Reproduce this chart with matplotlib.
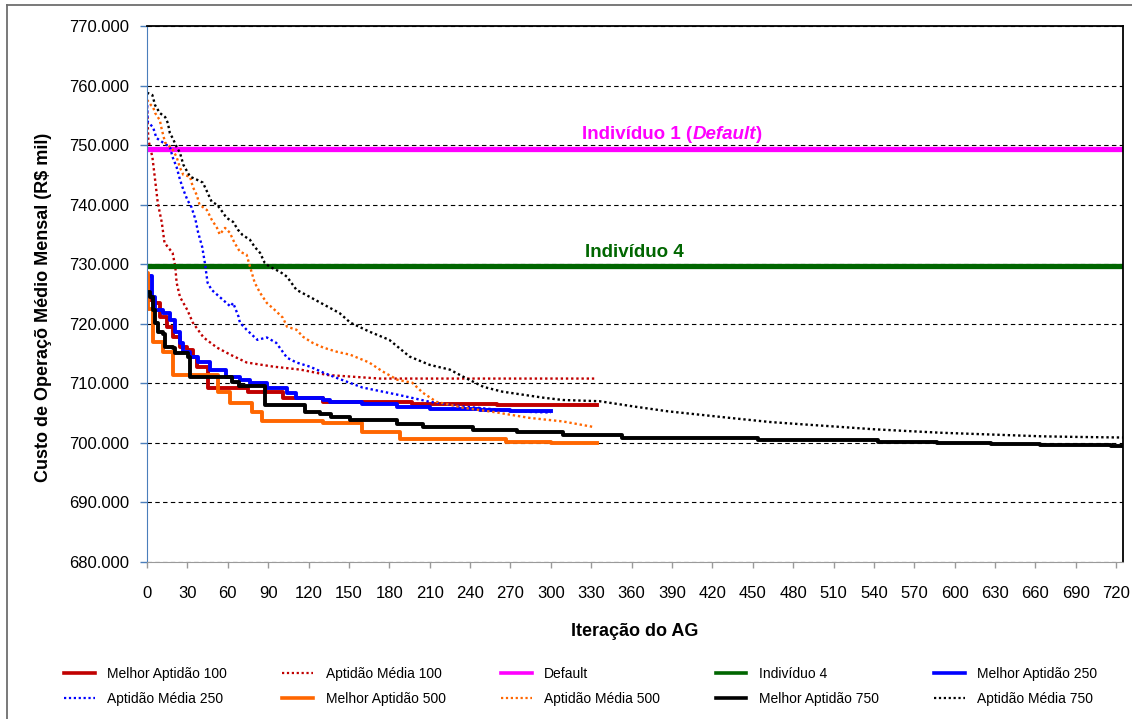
import matplotlib

matplotlib.use("Agg")
import matplotlib.pyplot as plt
from matplotlib.lines import Line2D
from matplotlib.ticker import FuncFormatter, MultipleLocator

plt.rcParams["font.family"] = ["Liberation Sans", "DejaVu Sans"]

# ---- data (R$ mil) ----
best100_x = [0, 1, 4.5, 10, 15, 19, 24.5, 30, 34, 37, 45, 75, 101, 131, 197, 260, 334]
best100_y = [727.9, 724.0, 723.5, 721.2, 719.5, 717.8, 716.1, 715.6, 714.5, 712.8, 709.3,
             708.6, 707.6, 706.9, 706.6, 706.4, 706.4]

avg100_x = [0, 1, 4, 6, 8, 11, 13, 19, 21, 22, 24.5, 30, 34, 42, 52, 62, 74, 94, 114, 134,
            173, 334]
avg100_y = [756.5, 750.9, 748.0, 744.2, 740.3, 737.0, 733.6, 731.9, 729.6, 726.9, 724.5,
            722.3, 720.2, 717.7, 716.0, 714.8, 713.5, 712.8, 712.3, 711.4, 710.8, 710.8]

best250_x = [0, 4, 6, 12, 17, 21, 24.5, 27, 32, 38, 43, 47, 59, 69, 76.5, 89, 104, 111, 131,
             136, 160, 186, 210, 247, 270, 300]
best250_y = [728.0, 724.5, 722.3, 721.8, 720.7, 718.7, 716.8, 715.3, 714.5, 713.6, 713.5,
             712.3, 711.1, 710.6, 710.1, 709.3, 708.4, 707.6, 707.2, 706.9, 706.6, 706.1,
             705.7, 705.6, 705.4, 705.3]

avg250_x = [0, 0.5, 4.5, 7, 12, 17, 19, 22, 24.5, 27, 30, 33, 36, 38, 41, 43, 45, 48, 54, 62,
            64, 68, 69, 74, 82, 89, 96, 104, 111, 121, 131, 141, 160, 186, 210, 235, 260,
            284, 300]
avg250_y = [757.6, 753.9, 753.0, 751.2, 750.4, 749.7, 748.0, 746.3, 744.2, 742.5, 740.8,
            739.6, 737.5, 735.3, 732.9, 730.2, 726.9, 725.7, 724.5, 722.9, 723.5, 721.2,
            720.2, 719.0, 717.3, 717.7, 716.8, 714.3, 713.5, 712.8, 711.8, 710.9, 709.3,
            708.1, 706.9, 706.1, 705.6, 705.2, 705.1]

best500_x = [0, 1, 4.5, 12, 19, 52.5, 61.5, 78, 85.5, 131, 160, 188, 267, 300, 334]
best500_y = [728.5, 722.5, 717.0, 715.3, 711.4, 708.6, 706.7, 705.2, 703.6, 703.4, 701.9,
             700.7, 700.2, 700.0, 700.0]

avg500_x = [0, 3, 4.5, 6, 9.5, 11, 13.5, 18.5, 22, 24.5, 27, 32, 34, 37, 39, 44.5, 48, 52,
            54, 58, 61.5, 65, 69, 74, 76.5, 80, 84, 89, 95, 101, 104, 111, 116, 123, 131,
            141, 151, 165, 175, 186, 197, 205, 215, 235, 260, 284, 309, 331]
avg500_y = [757.6, 756.7, 756.4, 755.4, 754.2, 752.6, 750.4, 749.5, 748.0, 746.2, 745.0,
            744.7, 743.0, 741.6, 740.0, 739.1, 737.5, 736.1, 735.0, 736.1, 735.3, 733.6,
            732.1, 731.6, 729.6, 726.9, 725.2, 723.5, 722.3, 721.0, 719.5, 719.0, 717.8,
            716.8, 716.0, 715.3, 714.8, 713.5, 712.0, 710.6, 710.1, 708.4, 706.9, 705.9,
            705.1, 704.2, 703.6, 702.7]

best750_x = [0, 2, 4.5, 6, 8, 12, 13.5, 19, 21, 30.5, 32, 63, 68, 88, 117, 128.5, 137,
             150.5, 186, 205, 242, 275, 309, 353, 454, 543, 587, 627, 663, 716, 725]
best750_y = [725.4, 724.5, 722.3, 720.2, 718.7, 718.2, 716.1, 716.0, 715.1, 714.5, 711.1,
             710.3, 709.6, 706.4, 705.2, 704.9, 704.4, 703.9, 703.2, 702.6, 702.2, 701.9,
             701.4, 700.8, 700.5, 700.2, 700.0, 699.8, 699.6, 699.5, 699.5]

avg750_x = [0, 4, 6, 9.5, 13.5, 15.5, 17, 19, 22, 24.5, 27, 30, 32, 37, 41.5, 45, 48, 52, 56,
            59, 64, 67.5, 71, 76.5, 80, 84, 87.5, 91, 99, 104, 111, 121, 134, 143, 151, 165,
            180, 195, 210, 225, 235, 250, 264, 279, 294, 309, 336, 362, 387, 412, 437, 463,
            488, 514, 539, 564, 590, 615, 640, 665, 691, 725]
avg750_y = [758.8, 758.4, 756.7, 755.4, 754.7, 753.7, 752.0, 751.2, 749.7, 748.7, 746.7,
            745.5, 744.7, 744.2, 743.7, 742.0, 740.5, 740.0, 738.8, 737.8, 737.1, 735.8,
            734.9, 734.1, 732.9, 731.9, 730.2, 729.6, 728.7, 727.9, 725.7, 724.5, 722.9,
            721.8, 720.2, 718.7, 717.3, 714.5, 713.1, 712.3, 711.1, 709.4, 708.6, 708.1,
            707.6, 707.2, 707.0, 706.1, 705.3, 704.7, 704.1, 703.5, 703.1, 702.7, 702.3,
            702.0, 701.7, 701.5, 701.3, 701.1, 701.0, 700.9]

default_value = 749.4
ind4_value = 729.7

DARKRED, BLUE, ORANGE = "#C00000", "#0000FF", "#FF6600"
MAGENTA, GREEN = "#FF00FF", "#006600"

fig = plt.figure(figsize=(11.32, 7.19), dpi=100)
ax = fig.add_axes([147 / 1132, 1 - 562 / 719, (1123 - 147) / 1132, (562 - 26) / 719])

dot = (0, (1, 1.2))
solid_lw, dot_lw = 2.8, 1.7

ax.plot(best100_x, best100_y, color=DARKRED, lw=solid_lw, drawstyle="steps-post")
ax.plot(avg100_x, avg100_y, color=DARKRED, lw=dot_lw, ls=dot)
ax.axhline(default_value, color=MAGENTA, lw=3.8)
ax.axhline(ind4_value, color=GREEN, lw=3.8)
ax.plot(best250_x, best250_y, color=BLUE, lw=solid_lw, drawstyle="steps-post")
ax.plot(avg250_x, avg250_y, color=BLUE, lw=dot_lw, ls=dot)
ax.plot(best500_x, best500_y, color=ORANGE, lw=solid_lw, drawstyle="steps-post")
ax.plot(avg500_x, avg500_y, color=ORANGE, lw=dot_lw, ls=dot)
ax.plot(best750_x, best750_y, color="black", lw=solid_lw, drawstyle="steps-post")
ax.plot(avg750_x, avg750_y, color="black", lw=dot_lw, ls=dot)

ax.set_xlim(0, 725)
ax.set_ylim(680, 770)
ax.xaxis.set_major_locator(MultipleLocator(30))
ax.yaxis.set_major_locator(MultipleLocator(10))
ax.yaxis.set_major_formatter(FuncFormatter(lambda v, p: f"{v * 1000:,.0f}".replace(",", ".")))
ax.grid(axis="y", color="black", ls=(0, (4, 3)), lw=0.8, zorder=0)
ax.set_axisbelow(True)

ax.spines["left"].set_color("#4A7EBB")
ax.spines["bottom"].set_color("#9A9A9A")
for s in ("top", "right"):
    ax.spines[s].set_color("black")
    ax.spines[s].set_linewidth(1.3)
ax.tick_params(axis="y", colors="#4A7EBB", length=5, width=1, pad=8, labelsize=12,
               labelcolor="black")
ax.tick_params(axis="x", colors="#9A9A9A", length=4.5, width=1, pad=13, labelsize=12,
               labelcolor="black")

# annotations above the reference lines
t1 = ax.text(323.5, 750.3, "Indivíduo 1 (", color=MAGENTA, fontsize=13.5, fontweight="bold",
             va="bottom", ha="left")
t2 = ax.annotate("Default", xy=(1, 0), xycoords=t1, color=MAGENTA, fontsize=13.5,
                 fontweight="bold", style="italic", va="bottom", ha="left")
ax.annotate(")", xy=(1, 0), xycoords=t2, color=MAGENTA, fontsize=13.5, fontweight="bold",
            va="bottom", ha="left")
ax.text(362, 730.6, "Indivíduo 4", color=GREEN, fontsize=13.5, fontweight="bold",
        va="bottom", ha="center")

fig.text(44 / 1132, 1 - 307 / 719, "Custo de Operaçõ Médio Mensal (R$ mil)", rotation=90,
         fontsize=13, fontweight="bold", ha="center", va="center")
fig.text(635 / 1132, 1 - 631 / 719, "Iteração do AG", fontsize=13, fontweight="bold",
         ha="center", va="center")

labels = ["Melhor Aptidão 100", "Aptidão Média 100", "Default", "Indivíduo 4",
          "Melhor Aptidão 250", "Aptidão Média 250", "Melhor Aptidão 500",
          "Aptidão Média 500", "Melhor Aptidão 750", "Aptidão Média 750"]
styles = [(DARKRED, "-"), (DARKRED, dot), (MAGENTA, "-"), (GREEN, "-"), (BLUE, "-"),
          (BLUE, dot), (ORANGE, "-"), (ORANGE, dot), ("black", "-"), ("black", dot)]
handles = [Line2D([], [], color=c, ls=ls, lw=2.6 if ls == "-" else 1.6) for c, ls in styles]
order = [0, 5, 1, 6, 2, 7, 3, 8, 4, 9]
fig.legend([handles[i] for i in order], [labels[i] for i in order], ncol=5,
           loc="center left", bbox_to_anchor=(64 / 1132, 1 - 686.5 / 719), frameon=False,
           fontsize=10, handlelength=2.2, handletextpad=0.9, columnspacing=4.0,
           labelspacing=0.75, borderpad=0, borderaxespad=0)

# outer chart frame (left and top edges visible in the crop)
fig.add_artist(Line2D([7 / 1132, 7 / 1132], [0, 1 - 5 / 719], color="#6E6E6E", lw=1.3))
fig.add_artist(Line2D([7 / 1132, 1], [1 - 5 / 719, 1 - 5 / 719], color="#6E6E6E", lw=1.3))

fig.savefig("out.png", dpi=100)
